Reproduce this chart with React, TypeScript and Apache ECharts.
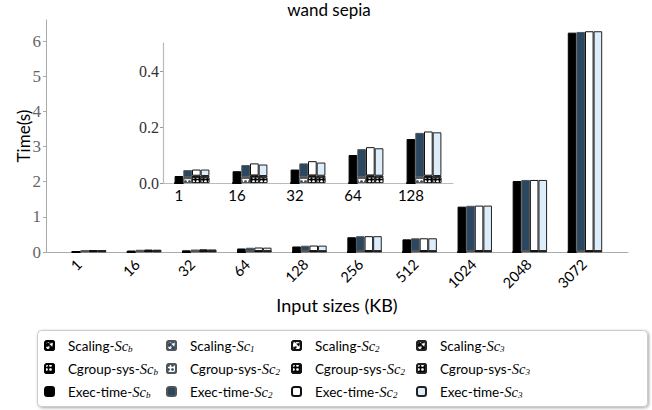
import React, { useEffect, useRef } from 'react';
import * as echarts from 'echarts';

const categories = ['1', '16', '32', '64', '128', '256', '512', '1024', '2048', '3072'];
const insetCount = 5;
const yTicksMain = [0, 1, 2, 3, 4, 5, 6];

const execB = [0.025, 0.042, 0.048, 0.1, 0.157, 0.42, 0.36, 1.29, 2.02, 6.24];
const execS1 = [0.046, 0.064, 0.07, 0.121, 0.179, 0.45, 0.39, 1.315, 2.05, 6.26];
const execS2 = [0.048, 0.07, 0.078, 0.128, 0.184, 0.45, 0.39, 1.32, 2.05, 6.28];
const execS3 = [0.048, 0.066, 0.073, 0.124, 0.181, 0.45, 0.39, 1.32, 2.05, 6.28];

const cgroupB = [0, 0, 0, 0, 0, 0, 0, 0, 0, 0];
const cgroupS1 = [0.017, 0.018, 0.018, 0.018, 0.018, 0.018, 0.018, 0.019, 0.019, 0.019];
const cgroupS2 = [0.021, 0.022, 0.022, 0.022, 0.021, 0.022, 0.022, 0.022, 0.022, 0.022];
const cgroupS3 = [0.02, 0.02, 0.021, 0.021, 0.02, 0.021, 0.021, 0.021, 0.021, 0.021];

const scalingB = [0, 0, 0, 0, 0, 0, 0, 0, 0, 0];
const scalingS1 = [0.004, 0.004, 0.004, 0.004, 0.004, 0.004, 0.004, 0.004, 0.004, 0.004];
const scalingS2 = [0.005, 0.005, 0.005, 0.005, 0.005, 0.005, 0.005, 0.005, 0.005, 0.005];
const scalingS3 = [0.005, 0.005, 0.005, 0.005, 0.005, 0.005, 0.005, 0.005, 0.005, 0.005];

const BLACK = '#000000';
const DARK = '#2a4862';
const WHITE = '#ffffff';
const LIGHT = '#ddedfa';
const SERIF = "'Liberation Serif', 'DejaVu Serif', serif";
const SANS = "Lato, 'DejaVu Sans', sans-serif";

const scenarios = [
  { key: 'b', exec: execB, cgroup: cgroupB, scaling: scalingB, color: BLACK, border: '#000000', cgBg: BLACK, cgFg: '#ffffff', scBg: BLACK, scFg: '#ffffff', names: ['Scaling-b', 'Cgroup-b', 'Exec-b'], subs: ['b', 'b', 'b'] },
  { key: '1', exec: execS1, cgroup: cgroupS1, scaling: scalingS1, color: DARK, border: '#555555', cgBg: '#ffffff', cgFg: DARK, scBg: DARK, scFg: '#ffffff', names: ['Scaling-1', 'Cgroup-2a', 'Exec-2a'], subs: ['1', '2', '2'] },
  { key: '2', exec: execS2, cgroup: cgroupS2, scaling: scalingS2, color: WHITE, border: '#111111', cgBg: BLACK, cgFg: '#ffffff', scBg: '#ffffff', scFg: BLACK, names: ['Scaling-2', 'Cgroup-2b', 'Exec-2b'], subs: ['2', '2', '2'] },
  { key: '3', exec: execS3, cgroup: cgroupS3, scaling: scalingS3, color: LIGHT, border: '#222222', cgBg: BLACK, cgFg: '#ffffff', scBg: BLACK, scFg: '#ffffff', names: ['Scaling-3', 'Cgroup-3', 'Exec-3'], subs: ['3', '3', '3'] },
];

const prefixes = ['Scaling-', 'Cgroup-sys-', 'Exec-time-'];

function buildSeries(xi: number, yi: number, stackPrefix: string, count: number, bw: number) {
  const out: any[] = [];
  scenarios.forEach((s) => {
    const cg = s.cgroup.slice(0, count);
    const sc = s.scaling.slice(0, count);
    const rest = s.exec.slice(0, count).map((v, i) => +(v - cg[i] - sc[i]).toFixed(4));
    const common = {
      type: 'bar',
      xAxisIndex: xi,
      yAxisIndex: yi,
      stack: stackPrefix + s.key,
      barWidth: bw,
      barGap: '0%',
    };
    out.push({
      ...common,
      name: s.names[1],
      data: cg,
      itemStyle: {
        color: s.cgBg,
        borderColor: s.border,
        borderWidth: 0.8,
        decal: { symbol: 'circle', symbolSize: 0.9, color: s.cgFg, dashArrayX: [3, 1], dashArrayY: [3, 1] },
      },
    });
    out.push({
      ...common,
      name: s.names[0],
      data: sc,
      itemStyle: {
        color: s.scBg,
        borderColor: s.border,
        borderWidth: 0.8,
        decal: { symbol: 'triangle', symbolSize: 1, color: s.scFg, dashArrayX: [4, 1], dashArrayY: [4, 1], rotation: Math.PI / 4 },
      },
    });
    out.push({
      ...common,
      name: s.names[2],
      data: rest,
      itemStyle: { color: s.color, borderColor: s.border, borderWidth: 1 },
    });
  });
  return out;
}

const legendCols = [44, 166, 291, 416];
const legendRows = [338, 361, 384];

function buildLegends() {
  const legends: any[] = [];
  scenarios.forEach((s, c) => {
    [0, 1, 2].forEach((r) => {
      legends.push({
        data: [s.names[r]],
        left: legendCols[c],
        top: legendRows[r],
        orient: 'horizontal',
        padding: 0,
        itemWidth: 9,
        itemHeight: 9,
        selectedMode: false,
        formatter: () => `{n|${prefixes[r]}}{m|Sc}{s|${s.subs[r]}}`,
        textStyle: {
          padding: [0, 0, 0, 9],
          rich: {
            n: { fontFamily: SANS, fontSize: 13.5, color: '#000', lineHeight: 16, verticalAlign: 'middle' },
            m: { fontFamily: SERIF, fontStyle: 'italic', fontSize: 14.5, color: '#000', lineHeight: 16, verticalAlign: 'middle' },
            s: { fontFamily: SERIF, fontStyle: 'italic', fontSize: 9, color: '#000', lineHeight: 10, verticalAlign: 'bottom' },
          },
        },
      });
    });
  });
  return legends;
}

const labelRich = {
  l1: { padding: [0, 0, 0, 0] },
  l2: { padding: [4, 4, 0, 0] },
  l3: { padding: [8, 8, 0, 0] },
  l4: { padding: [12, 12, 0, 0] },
};

export default function App() {
  const ref = useRef<HTMLDivElement>(null);
  useEffect(() => {
    if (!ref.current) return;
    const chart = echarts.init(ref.current, null, { renderer: 'svg' });
    const mainTop = 20;
    const mainBottom = 158;
    const bwMain = 8.6;
    const dataLeft = 61.45;
    const dataRight = 39.45;
    const shift = 1.5 * bwMain;
    const insetLeft = 163;
    const insetWidth = 290;
    const insetTop = 43;
    const insetHeight = 140;
    const bwInset = 8.7;

    const option: any = {
      animation: false,
      backgroundColor: '#ffffff',
      title: {
        text: 'wand sepia',
        left: 329,
        top: 1,
        padding: 0,
        textAlign: 'center',
        textStyle: { fontFamily: SANS, fontSize: 17, fontWeight: 'normal', color: '#000' },
      },
      grid: [
        { left: 46, right: 24, top: mainTop, bottom: mainBottom },
        { left: dataLeft, right: dataRight, top: mainTop, bottom: mainBottom },
        { left: dataLeft - shift, right: dataRight + shift, top: mainTop, bottom: mainBottom },
        { left: insetLeft, width: insetWidth, top: insetTop, height: insetHeight },
        { left: insetLeft - 1.5 * bwInset, width: insetWidth, top: insetTop, height: insetHeight },
      ],
      xAxis: [
        {
          gridIndex: 0, type: 'value', min: 0, max: 1,
          axisLine: { show: true, lineStyle: { color: '#aaaaaa', width: 1 } },
          axisTick: { show: false }, axisLabel: { show: false }, splitLine: { show: false },
          name: 'Input sizes (KB)', nameLocation: 'middle', nameGap: 44, nameMoveOverlap: false,
          nameTextStyle: { fontFamily: SANS, fontSize: 18, color: '#000' },
        },
        {
          gridIndex: 1, type: 'category', data: categories,
          axisLine: { show: false }, axisTick: { show: false }, axisLabel: { show: false },
        },
        {
          gridIndex: 2, type: 'category', data: categories,
          axisLine: { show: false }, axisTick: { show: false },
          axisLabel: {
            show: true, interval: 0, rotate: 45, align: 'center', verticalAlign: 'middle', margin: 13,
            fontFamily: SANS, fontSize: 14.5, color: '#000',
            formatter: (v: string) => `{l${v.length}|${v}}`,
            rich: labelRich,
          },
        },
        {
          gridIndex: 3, type: 'category', data: categories.slice(0, insetCount),
          axisLine: { show: true, lineStyle: { color: '#bbbbbb', width: 1.2 } },
          axisTick: { show: false }, axisLabel: { show: false },
        },
        {
          gridIndex: 4, type: 'category', data: categories.slice(0, insetCount),
          axisLine: { show: false }, axisTick: { show: false },
          axisLabel: { show: true, interval: 0, margin: 4, fontFamily: SANS, fontSize: 15, color: '#000' },
        },
      ],
      yAxis: [
        {
          gridIndex: 0, type: 'value', min: 0, max: 6.6, interval: 1,
          axisLine: { show: true, lineStyle: { color: '#aaaaaa', width: 1 } },
          axisTick: { show: true, length: 3, lineStyle: { color: '#aaaaaa' } },
          splitLine: { show: false },
          axisLabel: {
            showMaxLabel: false, margin: 5, fontFamily: SERIF, fontSize: 17, color: '#666666',
            formatter: (v: number) => (yTicksMain.includes(v) ? String(v) : ''),
          },
          name: 'Time(s)', nameLocation: 'middle', nameGap: 14, nameRotate: 90, nameMoveOverlap: false,
          nameTextStyle: { fontFamily: SANS, fontSize: 17, color: '#000' },
        },
        { gridIndex: 1, type: 'value', min: 0, max: 6.6, show: false },
        { gridIndex: 2, type: 'value', min: 0, max: 6.6, show: false },
        {
          gridIndex: 3, type: 'value', min: 0, max: 0.5, interval: 0.2,
          axisLine: { show: true, lineStyle: { color: '#bbbbbb', width: 1.2 } },
          axisTick: { show: true, length: 3, lineStyle: { color: '#999999' } },
          splitLine: { show: false },
          axisLabel: {
            showMaxLabel: false, margin: 4, fontFamily: SERIF, fontSize: 16, color: '#333333',
            formatter: (v: number) => v.toFixed(1),
          },
        },
        { gridIndex: 4, type: 'value', min: 0, max: 0.5, show: false },
      ],
      legend: buildLegends(),
      graphic: [
        {
          type: 'rect',
          left: 37,
          top: 330,
          shape: { width: 610, height: 76, r: 4 },
          style: { fill: '#ffffff', stroke: '#cccccc', lineWidth: 1, shadowBlur: 3, shadowColor: 'rgba(0,0,0,0.35)', shadowOffsetX: 1, shadowOffsetY: 1 },
          z: -10,
          silent: true,
        },
      ],
      series: [
        ...buildSeries(1, 1, 'm', categories.length, bwMain),
        ...buildSeries(3, 3, 'i', insetCount, bwInset),
      ],
    };
    chart.setOption(option);
    return () => chart.dispose();
  }, []);
  return <div ref={ref} style={{ position: 'absolute', left: 0, top: 0, width: 652, height: 410 }} />;
}
